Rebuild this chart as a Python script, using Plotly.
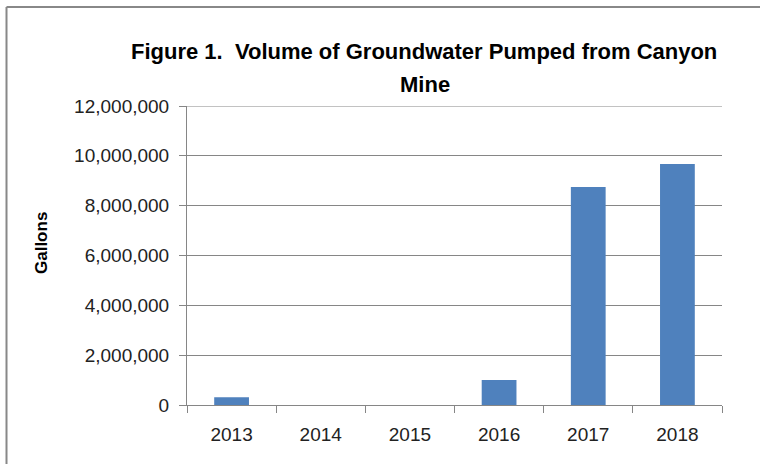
import plotly.graph_objects as go

years = ["2013", "2014", "2015", "2016", "2017", "2018"]
gallons = [310000, 0, 0, 1000000, 8750000, 9670000]
y_ticks = [0, 2000000, 4000000, 6000000, 8000000, 10000000, 12000000]
y_tick_labels = ["0", "2,000,000", "4,000,000", "6,000,000", "8,000,000", "10,000,000", "12,000,000"]
y_max = 12000000

title_line1 = "Figure 1.  Volume of Groundwater Pumped from Canyon"
title_line2 = "Mine"
y_title = "Gallons"

L, R, T, B = 187, 38, 106, 59
W, H = 760, 464
pw, ph = W - L - R, H - T - B

def px_x(x):
    return (x - L) / pw

def px_y(y):
    return (H - B - y) / ph

font = "Liberation Sans, Arial, sans-serif"
grid = "#868686"

fig = go.Figure(go.Bar(x=years, y=gallons, marker_color="#4F81BD", marker_line_width=0))

fig.update_layout(
    width=W, height=H,
    margin=dict(l=L, r=R, t=T, b=B),
    paper_bgcolor="white", plot_bgcolor="white",
    bargap=0.61,
    showlegend=False,
    font=dict(family=font, size=19, color="#222222"),
)
fig.update_yaxes(
    range=[0, y_max], tickvals=y_ticks, ticktext=y_tick_labels,
    showgrid=True, gridcolor=grid, gridwidth=1,
    showline=True, linecolor=grid, linewidth=1,
    ticks="outside", ticklen=7, tickcolor=grid, ticklabelstandoff=6,
    zeroline=False,
)
fig.update_xaxes(
    showline=True, linecolor=grid, linewidth=1,
    ticks="outside", ticklen=7, tickcolor=grid, tickson="boundaries",
    ticklabelstandoff=12,
    showgrid=False,
)

# top gridline at the axis maximum
fig.add_shape(type="line", xref="paper", yref="y", x0=0, x1=1, y0=y_max, y1=y_max,
              line=dict(color=grid, width=1), layer="below")

fig.add_annotation(text="<b>" + title_line1 + "</b>", x=px_x(424), y=px_y(52), xref="paper", yref="paper",
                   showarrow=False, font=dict(size=22, color="#000000", family=font), xanchor="center", yanchor="middle")
fig.add_annotation(text="<b>" + title_line2 + "</b>", x=px_x(425), y=px_y(84), xref="paper", yref="paper",
                   showarrow=False, font=dict(size=22, color="#000000", family=font), xanchor="center", yanchor="middle")
fig.add_annotation(text="<b>" + y_title + "</b>", x=px_x(41), y=px_y(243), xref="paper", yref="paper",
                   showarrow=False, textangle=-90, font=dict(size=17, color="#000000", family=font),
                   xanchor="center", yanchor="middle")

# outer chart frame (left and top edges visible)
fig.add_shape(type="line", xref="paper", yref="paper", x0=px_x(6.5), x1=px_x(W + 5), y0=px_y(7), y1=px_y(7),
              line=dict(color="#888888", width=2))
fig.add_shape(type="line", xref="paper", yref="paper", x0=px_x(6.5), x1=px_x(6.5), y0=px_y(7), y1=px_y(H + 5),
              line=dict(color="#888888", width=2))

fig.write_html("out.html")
